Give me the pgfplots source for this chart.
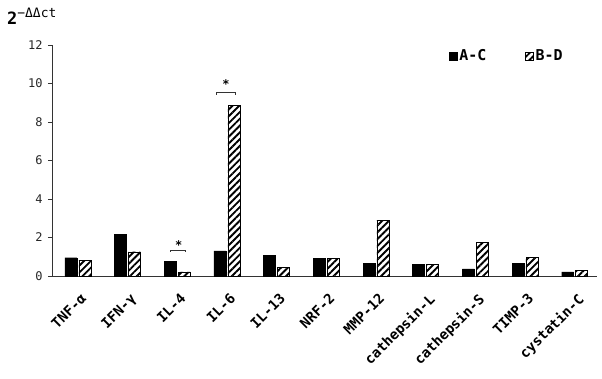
\documentclass[border=0pt]{standalone}
\usepackage{fontspec}
\setmainfont{DejaVu Sans Mono}
\usepackage{pgfplots}
\pgfplotsset{compat=1.18}
\usetikzlibrary{patterns.meta}
\begin{document}
\begin{tikzpicture}[x=1bp,y=1bp]
\begin{axis}[
  at={(0,0)}, anchor=south west,
  scale only axis, width=545bp, height=231bp,
  xmin=-0.52, xmax=10.45, ymin=0, ymax=12,
  axis lines*=left,
  axis line style={line width=0.8pt, color=black!80},
  ytick={0,2,...,12},
  tick align=outside,
  major tick length=4bp,
  ytick style={line width=0.8pt, color=black!80},
  xtick={0,...,10},
  xtick style={draw=none},
  xticklabels={TNF-α,IFN-γ,IL-4,IL-6,IL-13,NRF-2,MMP-12,cathepsin-L,cathepsin-S,TIMP-3,cystatin-C},
  xticklabel style={rotate=45, anchor=north east, inner sep=0pt, font=\fontsize{14}{14}\selectfont\bfseries, xshift=-7bp, yshift=-10bp},
  yticklabel style={font=\fontsize{12}{12}\selectfont, color=black!85, xshift=-2bp},
  /pgf/number format/assume math mode=true,
  ybar, bar width=0.24,
  legend style={at={(0.728,0.952)}, anchor=west, draw=none, fill=none, inner sep=0pt,
    font=\fontsize{15}{15}\selectfont\bfseries, legend columns=2,
    /tikz/every even column/.append style={column sep=37bp}},
  legend image code/.code={\draw[#1] (0bp,-4bp) rectangle (8bp,4bp);},
  clip=false,
]
\addplot[fill=black, draw=black, bar shift=-0.14] coordinates {
 (0,0.95) (1,2.18) (2,0.77) (3,1.30) (4,1.09) (5,0.92) (6,0.65) (7,0.62) (8,0.37) (9,0.65) (10,0.21)};
\addlegendentry{A-C}
\addplot[draw=black, fill=white, postaction={pattern={Lines[angle=45,distance=4.8bp,line width=1.9bp]}}, bar shift=0.14] coordinates {
 (0,0.81) (1,1.26) (2,0.21) (3,8.85) (4,0.44) (5,0.92) (6,2.90) (7,0.62) (8,1.74) (9,0.98) (10,0.30)};
\addlegendentry{B-D}
% significance brackets
\draw[line width=0.8pt, black!80] (axis cs:1.86,1.25) -- (axis cs:1.86,1.35) -- (axis cs:2.16,1.35) -- (axis cs:2.16,1.25);
\node[font=\fontsize{12}{12}\selectfont\bfseries] at (axis cs:2.03,1.62) {*};
\draw[line width=0.8pt, black!80] (axis cs:2.79,9.42) -- (axis cs:2.79,9.56) -- (axis cs:3.17,9.56) -- (axis cs:3.17,9.42);
\node[font=\fontsize{12}{12}\selectfont\bfseries] at (axis cs:2.98,9.98) {*};
\end{axis}
\node[anchor=base west, inner sep=0pt, font=\fontsize{17}{17}\selectfont\bfseries] at (-45bp,251bp) {2\raisebox{7bp}{\fontsize{13}{13}\selectfont\mdseries −ΔΔct}};
\pgfresetboundingbox
\path[use as bounding box] (-52bp,-103bp) rectangle (550bp,276bp);
\end{tikzpicture}
\end{document}
